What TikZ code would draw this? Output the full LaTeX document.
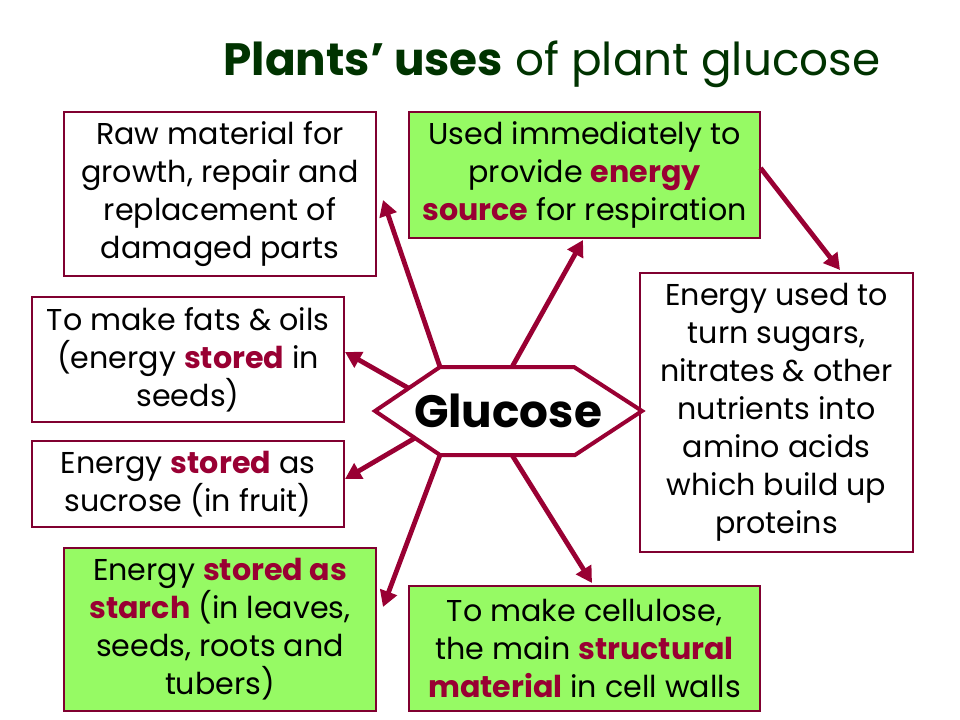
\documentclass[tikz,border=0pt]{standalone}
\usepackage{fontspec}
\setmainfont{Poppins}
\usetikzlibrary{arrows.meta}
\definecolor{titlegreen}{RGB}{0,51,0}
\definecolor{boxred}{RGB}{128,0,48}
\definecolor{arrowred}{RGB}{153,0,51}
\definecolor{boxgreen}{RGB}{150,250,100}
\newcommand{\keyword}[1]{{\bfseries\color{arrowred}#1}}

\begin{document}
\begin{tikzpicture}[x=0.75pt, y=-0.75pt,
        usebox/.style={draw=boxred, line width=0.8pt, align=center, inner sep=0pt,
          font=\fontsize{22.6}{28.5}\selectfont},
        greenbox/.style={usebox, fill=boxgreen},
        line/.style={-{Triangle[length=12pt,width=13pt]}, line width=3.6pt, arrowred}]

        \useasboundingbox (0,0) rectangle (960,720);

        % Title
        \node[titlegreen, font=\fontsize{34}{40}\selectfont] (title) at (552,64)
          {\textbf{Plants' uses} of plant glucose};

        % Nodes (uses)
        \node[usebox, minimum width=234pt, minimum height=123pt] (raw) at (220,194)
          {Raw material for\\growth, repair and\\replacement of\\damaged parts};
        \node[greenbox, minimum width=263.25pt, minimum height=94.5pt] (energy) at (584.5,175)
          {Used immediately to\\provide \keyword{energy}\\\keyword{source} for respiration};
        \node[usebox, minimum width=204.75pt, minimum height=209.25pt] (amino) at (776.5,412.5)
          {Energy used to\\turn sugars,\\nitrates \& other\\nutrients into\\amino acids\\which build up\\proteins};
        \node[usebox, minimum width=234pt, minimum height=93.75pt] (fats) at (188,359.5)
          {To make fats \& oils\\(energy \keyword{stored} in\\seeds)};
        \node[usebox, minimum width=234pt, minimum height=64.5pt] (sucrose) at (188,484)
          {Energy \keyword{stored} as\\sucrose (in fruit)};
        \node[greenbox, minimum width=234pt, minimum height=122.25pt] (starch) at (220,629.5)
          {Energy \keyword{stored as}\\\keyword{starch} (in leaves,\\seeds, roots and\\tubers)};
        \node[greenbox, minimum width=263.25pt, minimum height=93.75pt] (cellulose) at (584.5,648.5)
          {To make cellulose,\\the main \keyword{structural}\\\keyword{material} in cell walls};

        % Hexagon corners and arrow ends
        \coordinate (h1) at (375,411);
        \coordinate (h2) at (440,367);
        \coordinate (h3) at (574,367);
        \coordinate (h4) at (642,411);
        \coordinate (h5) at (575,455);
        \coordinate (h6) at (440,455);
        \coordinate (top) at (512,367);
        \coordinate (bottom) at (512,455);
        \coordinate (upleft) at (410,389);
        \coordinate (downleft) at (415,438);
        \coordinate (rawtip) at (383,200);
        \coordinate (energytip) at (583,240);
        \coordinate (aminotip) at (840,270);
        \coordinate (fatstip) at (345,352);
        \coordinate (sucrosetip) at (345,479);
        \coordinate (starchtip) at (383,607);
        \coordinate (cellulosetip) at (592,583);

        % Arcs (uses)
        \draw[line] (h2) -- (rawtip);
        \draw[line] (top) -- (energytip);
        \draw[line] (energy.east) ++(0,-7) -- (aminotip);
        \draw[line] (upleft) -- (fatstip);
        \draw[line] (downleft) -- (sucrosetip);
        \draw[line] (h6) -- (starchtip);
        \draw[line] (bottom) -- (cellulosetip);

        % Glucose
        \draw[arrowred, line width=3pt, fill=white] (h1) -- (h2) -- (h3) -- (h4) -- (h5) -- (h6) -- cycle;
        \node[font=\fontsize{34}{40}\selectfont\bfseries] (glucose) at (508,411) {Glucose};
    \end{tikzpicture}
\end{document}
